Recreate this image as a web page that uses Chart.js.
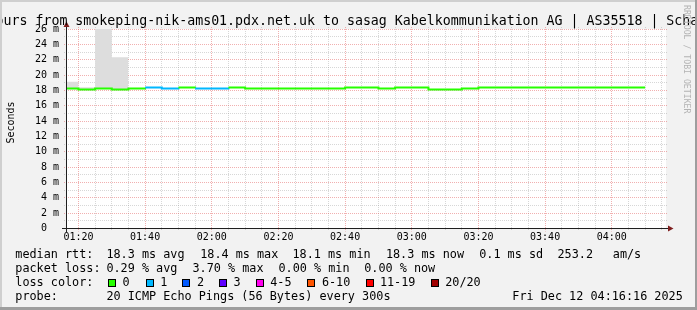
<!DOCTYPE html>
<html><head><meta charset="utf-8">
<script src="https://cdn.jsdelivr.net/npm/chart.js@4.4.1/dist/chart.umd.min.js"></script>
<style>
html,body{margin:0;padding:0;background:#f2f2f2;}
#wrap{position:relative;width:697px;height:310px;background:#f2f2f2;overflow:hidden;}
#c{position:absolute;left:0;top:0;}
.t{position:absolute;font-family:'DejaVu Sans Mono',monospace;font-size:11.8px;line-height:14px;white-space:pre;color:#000;}
.box{position:absolute;width:6px;height:6px;border:1px solid #000;}
.bd{position:absolute;}
</style></head><body>
<div id="wrap">
<canvas id="c" width="697" height="310"></canvas>
<div id="legend"></div>
<div class="bd" style="left:0;top:0;width:697px;height:2px;background:#cfcfcf"></div>
<div class="bd" style="left:0;top:0;width:2px;height:310px;background:#cfcfcf"></div>
<div class="bd" style="left:695px;top:0;width:2px;height:310px;background:#9e9e9e"></div>
<div class="bd" style="left:0;top:307px;width:697px;height:3px;background:#9e9e9e"></div>
</div>
<script>
// ---- data ----
const stepStart = ["01:15","01:20","01:25","01:30","01:35","01:40","01:45","01:50","01:55","02:00",
  "02:05","02:10","02:15","02:20","02:25","02:30","02:35","02:40","02:45","02:50",
  "02:55","03:00","03:05","03:10","03:15","03:20","03:25","03:30","03:35","03:40",
  "03:45","03:50","03:55","04:00","04:05"];
const medianMs = [18.25,18.12,18.25,18.12,18.25,18.38,18.25,18.38,18.25,18.25,
  18.38,18.25,18.25,18.25,18.25,18.25,18.25,18.38,18.38,18.25,
  18.38,18.38,18.12,18.12,18.25,18.38,18.38,18.38,18.38,18.38,
  18.38,18.38,18.38,18.38,18.38];
const lossPings = [0,0,0,0,0,1,1,0,1,1,
  0,0,0,0,0,0,0,0,0,0,
  0,0,0,0,0,0,0,0,0,0,
  0,0,0,0,0];
const smokeLowMs = [18.15,18.05,18.2,18.05,null,null,null,null,null,null,
  null,null,null,null,null,null,null,null,null,null,
  null,null,null,null,null,null,null,null,null,null,
  null,null,null,null,null];
const smokeHighMs = [19.13,18.42,30.0,22.31,null,null,null,null,null,null,
  null,null,null,null,null,null,null,null,null,null,
  null,null,null,null,null,null,null,null,null,null,
  null,null,null,null,null];
const xTickLabels = ["01:20","01:40","02:00","02:20","02:40","03:00","03:20","03:40","04:00"];
const yTickValues = [0,2,4,6,8,10,12,14,16,18,20,22,24,26];
const lossLabels = ["0","1","2","3","4-5","6-10","11-19","20/20"];
const lossColors = ["#26ff00","#00b8ff","#0059ff","#5e00ff","#ff00ee","#ff5500","#ff0000","#a00000"];
const graphStart = "01:16:16";
const graphEnd = "04:16:16";
const stepMinutes = 5;
const yMaxMs = 26;

// ---- helpers ----
function toMin(s){const p=s.split(':').map(Number);return p[0]*60+p[1]+(p[2]||0)/60;}
function lossIndex(n){if(n<=3)return n;if(n<=5)return 4;if(n<=10)return 5;if(n<=19)return 6;return 7;}
function stepPoints(vals){
  const pts=[];
  for(let i=0;i<vals.length;i++){
    if(vals[i]==null)continue;
    pts.push({x:toMin(stepStart[i]),y:vals[i]});
    if(i===vals.length-1||vals[i+1]==null)pts.push({x:toMin(stepStart[i])+stepMinutes,y:vals[i]});
  }
  return pts;
}
const MONO='"DejaVu Sans Mono", monospace';
const GRID='rgba(140,140,140,0.35)';
const MGRID='rgba(225,80,80,0.45)';

const rrdPlugin={
  id:'rrd',
  beforeDatasetsDraw(chart){
    const {ctx,chartArea:a,scales:{x,y}}=chart;
    ctx.save();
    ctx.fillStyle='#ffffff';
    ctx.fillRect(a.left,a.top,a.right-a.left,a.bottom-a.top);
    ctx.lineWidth=1;ctx.setLineDash([1,1]);
    for(let t=Math.ceil(x.min/stepMinutes)*stepMinutes;t<=x.max;t+=stepMinutes){
      const px=Math.floor(x.getPixelForValue(t))+0.5;
      const major=(t%20===0);
      ctx.strokeStyle=major?MGRID:GRID;
      ctx.beginPath();ctx.moveTo(px,a.top-2);ctx.lineTo(px,a.bottom+(major?3:2));ctx.stroke();
    }
    for(let v=1;v<=y.max;v++){
      const py=Math.floor(y.getPixelForValue(v))+0.5;
      ctx.strokeStyle=(v%2===0)?MGRID:GRID;
      ctx.beginPath();ctx.moveTo(a.left-2,py);ctx.lineTo(a.right+2,py);ctx.stroke();
    }
    ctx.restore();
  },
  afterDatasetsDraw(chart){
    const {ctx,chartArea:a}=chart;
    ctx.save();
    ctx.strokeStyle='#1f1f1f';ctx.lineWidth=1;
    const ax=Math.floor(a.left)+0.5, ay=Math.floor(a.bottom)+0.5;
    ctx.beginPath();ctx.moveTo(a.left-4,ay);ctx.lineTo(a.right+4,ay);ctx.stroke();
    ctx.beginPath();ctx.moveTo(ax,a.bottom+4);ctx.lineTo(ax,a.top-4);ctx.stroke();
    ctx.fillStyle='#7f1f1f';
    ctx.beginPath();ctx.moveTo(a.right+2,ay-3);ctx.lineTo(a.right+2,ay+3);ctx.lineTo(a.right+7.5,ay);ctx.closePath();ctx.fill();
    ctx.beginPath();ctx.moveTo(ax-3,a.top-2);ctx.lineTo(ax+3,a.top-2);ctx.lineTo(ax,a.top-7.5);ctx.closePath();ctx.fill();
    ctx.restore();
  },
  afterDraw(chart){
    const ctx=chart.ctx;
    ctx.save();
    ctx.fillStyle='#000';
    ctx.font='13.28px '+MONO;ctx.textAlign='left';ctx.textBaseline='alphabetic';
    ctx.fillText('ours from smokeping-nik-ams01.pdx.net.uk to sasag Kabelkommunikation AG | AS35518 | Scha',-4.5,25);
    ctx.save();
    ctx.translate(14.3,122.5);ctx.rotate(-Math.PI/2);
    ctx.font='10px '+MONO;ctx.textAlign='center';
    ctx.fillText('Seconds',0,0);
    ctx.restore();
    ctx.save();
    ctx.translate(690.5,5);ctx.rotate(Math.PI/2);
    ctx.font='8.2px '+MONO;ctx.textAlign='left';ctx.textBaseline='top';
    ctx.fillStyle='#b4b4b4';
    ctx.fillText('RRDTOOL / TOBI OETIKER',0,0);
    ctx.restore();
    ctx.restore();
  }
};

new Chart(document.getElementById('c'),{
  type:'line',
  data:{datasets:[
    {label:'median',data:stepPoints(medianMs),stepped:true,borderWidth:2,pointRadius:0,fill:false,
     borderColor:lossColors[0],
     segment:{borderColor:c=>lossColors[lossIndex(lossPings[c.p0DataIndex])]}},
    {label:'smokeHigh',data:stepPoints(smokeHighMs),stepped:true,borderWidth:0,pointRadius:0,
     borderColor:'rgba(0,0,0,0)',backgroundColor:'#dddddd',fill:'+1',clip:{left:0,top:2.5,right:0,bottom:0}},
    {label:'smokeLow',data:stepPoints(smokeLowMs),stepped:true,borderWidth:0,pointRadius:0,
     borderColor:'rgba(0,0,0,0)',fill:false}
  ]},
  options:{
    responsive:false,animation:false,devicePixelRatio:1,events:[],
    layout:{padding:{left:0,top:29,right:31,bottom:0}},
    plugins:{legend:{display:false},tooltip:{enabled:false},title:{display:false}},
    scales:{
      x:{type:'linear',min:toMin(graphStart),max:toMin(graphEnd),
        afterBuildTicks:s=>{s.ticks=xTickLabels.map(l=>({value:toMin(l)}));},
        afterFit:s=>{s.height=81.5;},
        grid:{display:false,drawTicks:false},border:{display:false},
        ticks:{autoSkip:false,maxRotation:0,padding:3,color:'#000',font:{family:MONO,size:10},
          callback:(v,i)=>xTickLabels[i]}},
      y:{type:'linear',min:0,max:yMaxMs,
        afterBuildTicks:s=>{s.ticks=yTickValues.map(v=>({value:v}));},
        afterFit:s=>{s.width=66;},
        grid:{display:false,drawTicks:false},border:{display:false},
        ticks:{autoSkip:false,padding:7,color:'#000',font:{family:MONO,size:10},
          callback:v=>v===0?'0  ':v+' m'}}
    }
  },
  plugins:[rrdPlugin]
});

// ---- legend text (HTML) ----
const legendRows=[
  {top:247.3,items:[[15.3,'median rtt:'],[106.4,'18.3 ms avg'],[200.2,'18.4 ms max'],[292.5,'18.1 ms min'],[385.9,'18.3 ms now'],[479.2,'0.1 ms sd'],[557.5,'253.2'],[612.8,'am/s']]},
  {top:261.3,items:[[15.3,'packet loss:'],[106.4,'0.29 % avg'],[192.5,'3.70 % max'],[278.5,'0.00 % min'],[364.2,'0.00 % now']]},
  {top:275.3,items:[[15.3,'loss color:']]},
  {top:289.3,items:[[15.3,'probe:'],[106.4,'20 ICMP Echo Pings (56 Bytes) every 300s'],[512.3,'Fri Dec 12 04:16:16 2025']]}
];
const boxLeft=[108.3,145.7,182.3,219,255.7,306.7,365.7,430.7];
const boxLabelLeft=[122.5,160.2,196.9,233.5,270.2,321.9,379.9,445.2];
const lg=document.getElementById('legend');
legendRows.forEach(r=>r.items.forEach(([x,txt])=>{
  const s=document.createElement('span');s.className='t';s.style.left=x+'px';s.style.top=r.top+'px';s.textContent=txt;lg.appendChild(s);
}));
lossLabels.forEach((lab,i)=>{
  const b=document.createElement('div');b.className='box';b.style.left=boxLeft[i]+'px';b.style.top='278.5px';b.style.background=lossColors[i];lg.appendChild(b);
  const s=document.createElement('span');s.className='t';s.style.left=boxLabelLeft[i]+'px';s.style.top='275.3px';s.textContent=lab;lg.appendChild(s);
});
</script>
</body></html>
